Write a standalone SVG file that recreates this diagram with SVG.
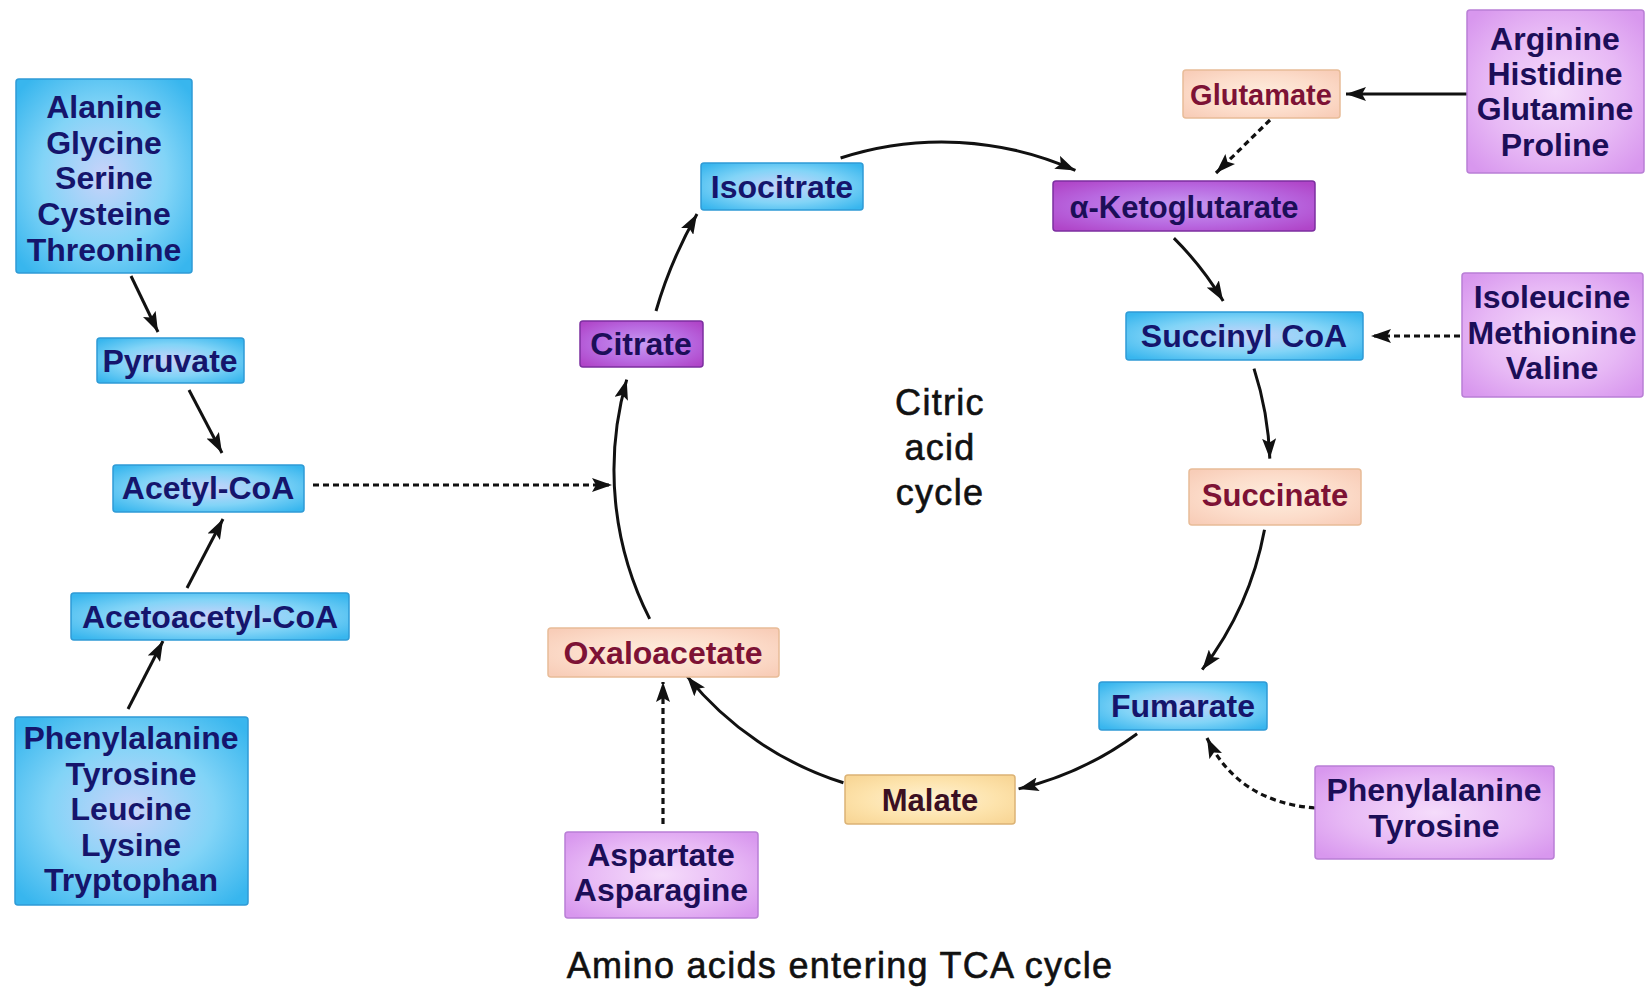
<svg xmlns="http://www.w3.org/2000/svg" width="1646" height="992" viewBox="0 0 1646 992">
<defs>
<radialGradient id="gBlue" cx="50%" cy="50%" r="65%">
<stop offset="0" stop-color="#c9d2fa"/><stop offset="0.55" stop-color="#82d4f7"/><stop offset="1" stop-color="#38b6ee"/>
</radialGradient>
<radialGradient id="gPurple" cx="50%" cy="50%" r="65%">
<stop offset="0" stop-color="#f5dcfb"/><stop offset="0.6" stop-color="#e7b8f5"/><stop offset="1" stop-color="#d897ee"/>
</radialGradient>
<radialGradient id="gDark" cx="50%" cy="50%" r="65%">
<stop offset="0" stop-color="#c89af2"/><stop offset="0.6" stop-color="#b868e0"/><stop offset="1" stop-color="#b045c8"/>
</radialGradient>
<radialGradient id="gPeach" cx="50%" cy="50%" r="65%">
<stop offset="0" stop-color="#fdeede"/><stop offset="0.6" stop-color="#fcdcca"/><stop offset="1" stop-color="#f8cdb8"/>
</radialGradient>
<radialGradient id="gMalate" cx="50%" cy="50%" r="65%">
<stop offset="0" stop-color="#fff2d4"/><stop offset="0.6" stop-color="#fde3ac"/><stop offset="1" stop-color="#f8d696"/>
</radialGradient>
<marker id="ah" markerUnits="userSpaceOnUse" markerWidth="22" markerHeight="14" refX="20" refY="7" orient="auto">
<path d="M0,0 L20,7 L0,14 L4,7 z" fill="#111"/>
</marker>
<style>
.bl{fill:url(#gBlue);stroke:#2f9bd6;stroke-width:1.5}
.pu{fill:url(#gPurple);stroke:#b97fd6;stroke-width:1.5}
.dk{fill:url(#gDark);stroke:#7c2fa0;stroke-width:1.5}
.pe{fill:url(#gPeach);stroke:#e8bc98;stroke-width:1.5}
.ma{fill:url(#gMalate);stroke:#dcb375;stroke-width:1.5}
text{font-family:"Liberation Sans",Arial,Helvetica,sans-serif;text-anchor:middle}
.t{font-size:32px;font-weight:bold;fill:#15156c}
.tp{font-size:32px;font-weight:bold;fill:#1c0e58}
.tr{font-size:31px;font-weight:bold;fill:#7d1235}
.tm{font-size:31px;font-weight:bold;fill:#3b1022}
.c{font-size:36px;fill:#111;stroke:#111;stroke-width:0.6;letter-spacing:1.3px}
.s{fill:none;stroke:#111;stroke-width:3;marker-end:url(#ah)}
.d{fill:none;stroke:#111;stroke-width:3.2;stroke-dasharray:6 4;marker-end:url(#ah)}
</style>
</defs>
<rect width="1646" height="992" fill="#ffffff"/>

<g id="connectors">
<path class="s" d="M131,276 L158,332"/>
<path class="s" d="M189,390 L222,453"/>
<path class="s" d="M187,588 L223,519"/>
<path class="s" d="M128,709 L163,641"/>
<path class="d" d="M313,485 L612,485"/>
<path class="s" d="M649.7,618.9 A328,328 0 0 1 626.7,379.6"/>
<path class="s" d="M656,311 Q670,262 697,214"/>
<path class="s" d="M840.6,158 A328,328 0 0 1 1075.4,170.4"/>
<path class="s" d="M1173.9,238.1 A328,328 0 0 1 1223.2,301.1"/>
<path class="s" d="M1254,368.6 A328,328 0 0 1 1269.8,458.6"/>
<path class="s" d="M1264.5,529.8 A328,328 0 0 1 1202.2,669.7"/>
<path class="s" d="M1137.1,733.7 A328,328 0 0 1 1018.6,788.9"/>
<path class="s" d="M843.4,782.8 A328,328 0 0 1 687.1,676.4"/>
<path class="s" d="M1467,94 L1346,94"/>
<path class="d" d="M1270,120 L1216,173"/>
<path class="d" d="M1460,336 L1371,336"/>
<path class="d" d="M1315,808 Q1238,802 1207,738"/>
<path class="d" d="M663,824 L663,682"/>
</g>

<g id="n-alanine"><rect class="bl" x="16" y="79" width="176" height="194" rx="3"/>
<text class="t" x="104" y="118">Alanine</text><text class="t" x="104" y="154">Glycine</text><text class="t" x="104" y="189">Serine</text><text class="t" x="104" y="225">Cysteine</text><text class="t" x="104" y="261">Threonine</text></g>
<g id="n-pyruvate"><rect class="bl" x="97" y="338" width="147" height="45" rx="3"/><text class="t" x="170" y="372">Pyruvate</text></g>
<g id="n-acetylcoa"><rect class="bl" x="113" y="465" width="191" height="47" rx="3"/><text class="t" x="208" y="499">Acetyl-CoA</text></g>
<g id="n-acetoacetyl"><rect class="bl" x="71" y="593" width="278" height="47" rx="3"/><text class="t" x="210" y="628">Acetoacetyl-CoA</text></g>
<g id="n-phe-left"><rect class="bl" x="15" y="717" width="233" height="188" rx="3"/>
<text class="t" x="131" y="749">Phenylalanine</text><text class="t" x="131" y="785">Tyrosine</text><text class="t" x="131" y="820">Leucine</text><text class="t" x="131" y="856">Lysine</text><text class="t" x="131" y="891">Tryptophan</text></g>

<g id="n-citrate"><rect class="dk" x="580" y="321" width="123" height="46" rx="3"/><text class="tp" x="641" y="355">Citrate</text></g>
<g id="n-isocitrate"><rect class="bl" x="701" y="163" width="162" height="47" rx="3"/><text class="t" x="782" y="198">Isocitrate</text></g>
<g id="n-akg"><rect class="dk" x="1053" y="181" width="262" height="50" rx="3"/><text class="tp" x="1184" y="218" style="font-size:31px">α-Ketoglutarate</text></g>
<g id="n-glutamate"><rect class="pe" x="1183" y="70" width="157" height="48" rx="3"/><text class="tr" x="1261" y="105" style="font-size:29px">Glutamate</text></g>
<g id="n-arginine"><rect class="pu" x="1467" y="10" width="177" height="163" rx="3"/>
<text class="tp" x="1555" y="50">Arginine</text><text class="tp" x="1555" y="85">Histidine</text><text class="tp" x="1555" y="120">Glutamine</text><text class="tp" x="1555" y="156">Proline</text></g>
<g id="n-succinylcoa"><rect class="bl" x="1126" y="312" width="237" height="48" rx="3"/><text class="t" x="1244" y="347">Succinyl CoA</text></g>
<g id="n-isoleucine"><rect class="pu" x="1462" y="273" width="181" height="124" rx="3"/>
<text class="tp" x="1552" y="308">Isoleucine</text><text class="tp" x="1552" y="344">Methionine</text><text class="tp" x="1552" y="379">Valine</text></g>
<g id="n-succinate"><rect class="pe" x="1189" y="469" width="172" height="56" rx="3"/><text class="tr" x="1275" y="506">Succinate</text></g>
<g id="n-fumarate"><rect class="bl" x="1099" y="682" width="168" height="48" rx="3"/><text class="t" x="1183" y="717">Fumarate</text></g>
<g id="n-phe-right"><rect class="pu" x="1315" y="766" width="239" height="93" rx="3"/>
<text class="tp" x="1434" y="801">Phenylalanine</text><text class="tp" x="1434" y="837">Tyrosine</text></g>
<g id="n-malate"><rect class="ma" x="845" y="775" width="170" height="49" rx="3"/><text class="tm" x="930" y="811">Malate</text></g>
<g id="n-oxaloacetate"><rect class="pe" x="548" y="628" width="231" height="49" rx="3"/><text class="tr" x="663" y="664" style="font-size:32px">Oxaloacetate</text></g>
<g id="n-aspartate"><rect class="pu" x="565" y="832" width="193" height="86" rx="3"/>
<text class="tp" x="661" y="866">Aspartate</text><text class="tp" x="661" y="901">Asparagine</text></g>

<g id="center-label"><text class="c" x="940" y="415">Citric</text><text class="c" x="940" y="460">acid</text><text class="c" x="940" y="505">cycle</text></g>
<g id="caption"><text class="c" x="840" y="978">Amino acids entering TCA cycle</text></g>
</svg>
